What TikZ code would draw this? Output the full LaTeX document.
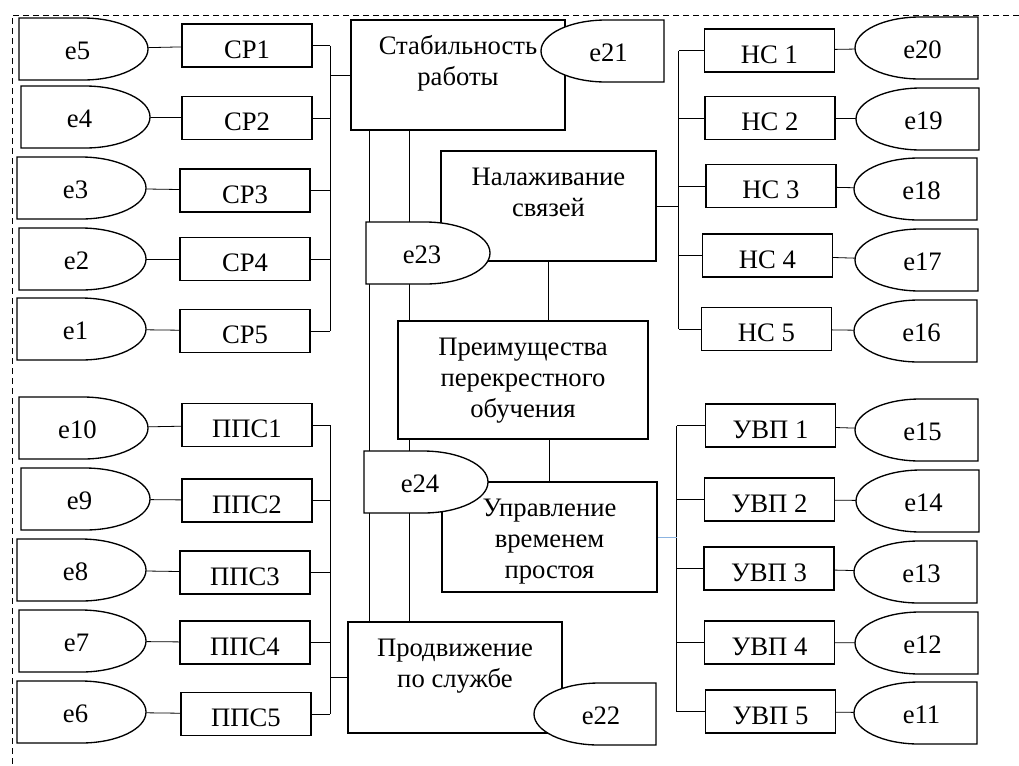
\documentclass[tikz,border=0pt]{standalone}
\usepackage{fontspec}
\setmainfont{Liberation Serif}
\usepackage{tikz}
\usetikzlibrary{calc,backgrounds}
\definecolor{linkblue}{RGB}{140,180,225}

\tikzset{
  box/.style={draw,line width=1pt,fill=white,inner sep=0pt},
  smallbox/.style={box,minimum width=97.5pt,minimum height=32.25pt,text height=19pt,text depth=0pt},
  conn/.style={line width=0.6pt},
  eline/.style={line width=1pt,fill=white},
  etext/.style={inner sep=0pt,minimum height=46.5pt,text height=15pt,text depth=0pt}
}

% e-shape, flat side on the left: name, left x, top y, right x, text
\newcommand{\eflatL}[5]{%
  \filldraw[eline] (#2,#3) -- (#4-65,#3) arc[start angle=90,end angle=-90,x radius=48.75pt,y radius=23.25pt] -- (#2,#3+62) -- cycle;
  \node[etext,minimum width={(#4-#2)*0.75pt}] (#1) at ({(#2+#4)/2},#3+31) {\hspace*{-9pt}#5};
}
% e-shape, flat side on the right
\newcommand{\eflatR}[5]{%
  \filldraw[eline] (#4,#3) -- (#2+65,#3) arc[start angle=90,end angle=270,x radius=48.75pt,y radius=23.25pt] -- (#4,#3+62) -- cycle;
  \node[etext,minimum width={(#4-#2)*0.75pt}] (#1) at ({(#2+#4)/2},#3+31) {\hspace*{9pt}#5};
}
% big box with text from the top: name, centre x, centre y, width, height, text
\newcommand{\bigbox}[6]{%
  \node[box,minimum width={#4*0.75pt},minimum height={#5*0.75pt}] (#1) at (#2,#3)
    {\parbox[c][\dimexpr#5pt*3/4-1pt\relax][t]{\dimexpr#4pt*3/4-10pt\relax}{\centering\rule{0pt}{25.5pt}#6}};
}

\begin{document}
\begin{tikzpicture}[x=0.75pt,y=-0.75pt,font=\fontsize{20}{23}\selectfont]
\useasboundingbox (0,0) rectangle (1019,765);
\draw[line width=0.75pt,dash pattern=on 4.5pt off 3pt] (1019,15) -- (12,15) -- (12,765);

% middle column
\bigbox{stab}{458}{75}{214}{110}{Стабильность\\работы}
\eflatR{e21}{541}{20}{664}{e21}
\bigbox{nal}{548.5}{206}{215}{110}{Налаживание\\связей}
\eflatL{e23}{366}{222}{490}{e23}
\bigbox{pre}{523}{380}{250}{118}{Преимущества\\перекрестного\\обучения}
\bigbox{upr}{549.5}{537}{215}{110}{Управление\\временем\\простоя}
\eflatL{e24}{364}{451}{488}{e24}
\bigbox{prod}{455}{677.5}{214}{111}{Продвижение\\по службе}
\eflatR{e22}{534}{683}{656}{e22}

% left, top
\eflatL{e5}{19}{18}{148}{e5}
\eflatL{e4}{21}{86}{150}{e4}
\eflatL{e3}{17}{157}{146}{e3}
\eflatL{e2}{19}{228}{146}{e2}
\eflatL{e1}{17}{298}{146}{e1}
\node[smallbox] (sr1) at (247,45.5) {СР1};
\node[smallbox] (sr2) at (247,118) {СР2};
\node[smallbox] (sr3) at (245,190.5) {СР3};
\node[smallbox] (sr4) at (245,259) {СР4};
\node[smallbox] (sr5) at (245,331) {СР5};

% left, bottom
\eflatL{e10}{19}{397}{148}{e10}
\eflatL{e9}{21}{468}{150}{e9}
\eflatL{e8}{17}{539}{146}{e8}
\eflatL{e7}{19}{610}{146}{e7}
\eflatL{e6}{17}{681}{146}{e6}
\node[smallbox] (pps1) at (247,425) {ППС1};
\node[smallbox] (pps2) at (247,500.5) {ППС2};
\node[smallbox] (pps3) at (245,572.5) {ППС3};
\node[smallbox] (pps4) at (245,642.5) {ППС4};
\node[smallbox] (pps5) at (246,714) {ППС5};

% right, top
\node[smallbox] (ns1) at (769.5,50.5) {НС 1};
\node[smallbox] (ns2) at (770,118) {НС 2};
\node[smallbox] (ns3) at (771,186) {НС 3};
\node[smallbox] (ns4) at (767.5,255.5) {НС 4};
\node[smallbox] (ns5) at (766.5,329) {НС 5};
\eflatR{e20}{855}{17}{978}{e20}
\eflatR{e19}{856}{88}{979}{e19}
\eflatR{e18}{854}{158}{977}{e18}
\eflatR{e17}{855}{229}{978}{e17}
\eflatR{e16}{854}{300}{977}{e16}

% right, bottom
\node[smallbox] (uvp1) at (770.5,425.5) {УВП 1};
\node[smallbox] (uvp2) at (769.5,499.5) {УВП 2};
\node[smallbox] (uvp3) at (769,568.5) {УВП 3};
\node[smallbox] (uvp4) at (769.5,642.5) {УВП 4};
\node[smallbox] (uvp5) at (770.5,711.5) {УВП 5};
\eflatR{e15}{855}{399}{978}{e15}
\eflatR{e14}{856}{470}{979}{e14}
\eflatR{e13}{854}{541}{977}{e13}
\eflatR{e12}{855}{612}{978}{e12}
\eflatR{e11}{854}{682}{977}{e11}

\begin{pgfonlayer}{background}
% e -- box
\draw[conn] (e5) -- (sr1);
\draw[conn] (e4) -- (sr2);
\draw[conn] (e3) -- (sr3);
\draw[conn] (e2) -- (sr4);
\draw[conn] (e1) -- (sr5);
\draw[conn] (e10) -- (pps1);
\draw[conn] (e9) -- (pps2);
\draw[conn] (e8) -- (pps3);
\draw[conn] (e7) -- (pps4);
\draw[conn] (e6) -- (pps5);
\draw[conn] (ns1) -- (e20);
\draw[conn] (ns2) -- (e19);
\draw[conn] (ns3) -- (e18);
\draw[conn] (ns4) -- (e17);
\draw[conn] (ns5) -- (e16);
\draw[conn] (uvp1) -- (e15);
\draw[conn] (uvp2) -- (e14);
\draw[conn] (uvp3) -- (e13);
\draw[conn] (uvp4) -- (e12);
\draw[conn] (uvp5) -- (e11);

% buses
\coordinate (srbus) at ($(stab.west)+(-20,0)$);
\draw[conn] (sr1.east) -- (sr1.east -| srbus);
\draw[conn] (sr2.east) -- (sr2.east -| srbus);
\draw[conn] (sr3.east) -- (sr3.east -| srbus);
\draw[conn] (sr4.east) -- (sr4.east -| srbus);
\draw[conn] (sr5.east) -- (sr5.east -| srbus);
\draw[conn] (sr1.east -| srbus) -- (sr5.east -| srbus);
\draw[conn] (srbus) -- (stab.west);

\coordinate (ppsbus) at ($(prod.west)+(-17,0)$);
\draw[conn] (pps1.east) -- (pps1.east -| ppsbus);
\draw[conn] (pps2.east) -- (pps2.east -| ppsbus);
\draw[conn] (pps3.east) -- (pps3.east -| ppsbus);
\draw[conn] (pps4.east) -- (pps4.east -| ppsbus);
\draw[conn] (pps5.east) -- (pps5.east -| ppsbus);
\draw[conn] (pps1.east -| ppsbus) -- (pps5.east -| ppsbus);
\draw[conn] (ppsbus) -- (prod.west);

\coordinate (nsbus) at ($(nal.east)+(22,0)$);
\draw[conn] (ns1.west) -- (ns1.west -| nsbus);
\draw[conn] (ns2.west) -- (ns2.west -| nsbus);
\draw[conn] (ns3.west) -- (ns3.west -| nsbus);
\draw[conn] (ns4.west) -- (ns4.west -| nsbus);
\draw[conn] (ns5.west) -- (ns5.west -| nsbus);
\draw[conn] (ns1.west -| nsbus) -- (ns5.west -| nsbus);
\draw[conn] (nsbus) -- (nal.east);

\coordinate (uvpbus) at ($(upr.east)+(19,0)$);
\draw[conn] (uvp1.west) -- (uvp1.west -| uvpbus);
\draw[conn] (uvp2.west) -- (uvp2.west -| uvpbus);
\draw[conn] (uvp3.west) -- (uvp3.west -| uvpbus);
\draw[conn] (uvp4.west) -- (uvp4.west -| uvpbus);
\draw[conn] (uvp5.west) -- (uvp5.west -| uvpbus);
\draw[conn] (uvp1.west -| uvpbus) -- (uvp5.west -| uvpbus);
\draw[conn,linkblue] (upr.east) -- (uvpbus);

% middle verticals
\coordinate (v1) at ($(stab.south west)+(19,0)$);
\coordinate (v2) at ($(stab.south west)+(59,0)$);
\draw[conn] (v1) -- (v1 |- prod.north);
\draw[conn] (v2) -- (v2 |- prod.north);
\draw[conn] (nal.south) -- (nal.south |- pre.north);
\draw[conn] (upr.north) -- (upr.north |- pre.south);
\end{pgfonlayer}
\end{tikzpicture}
\end{document}
